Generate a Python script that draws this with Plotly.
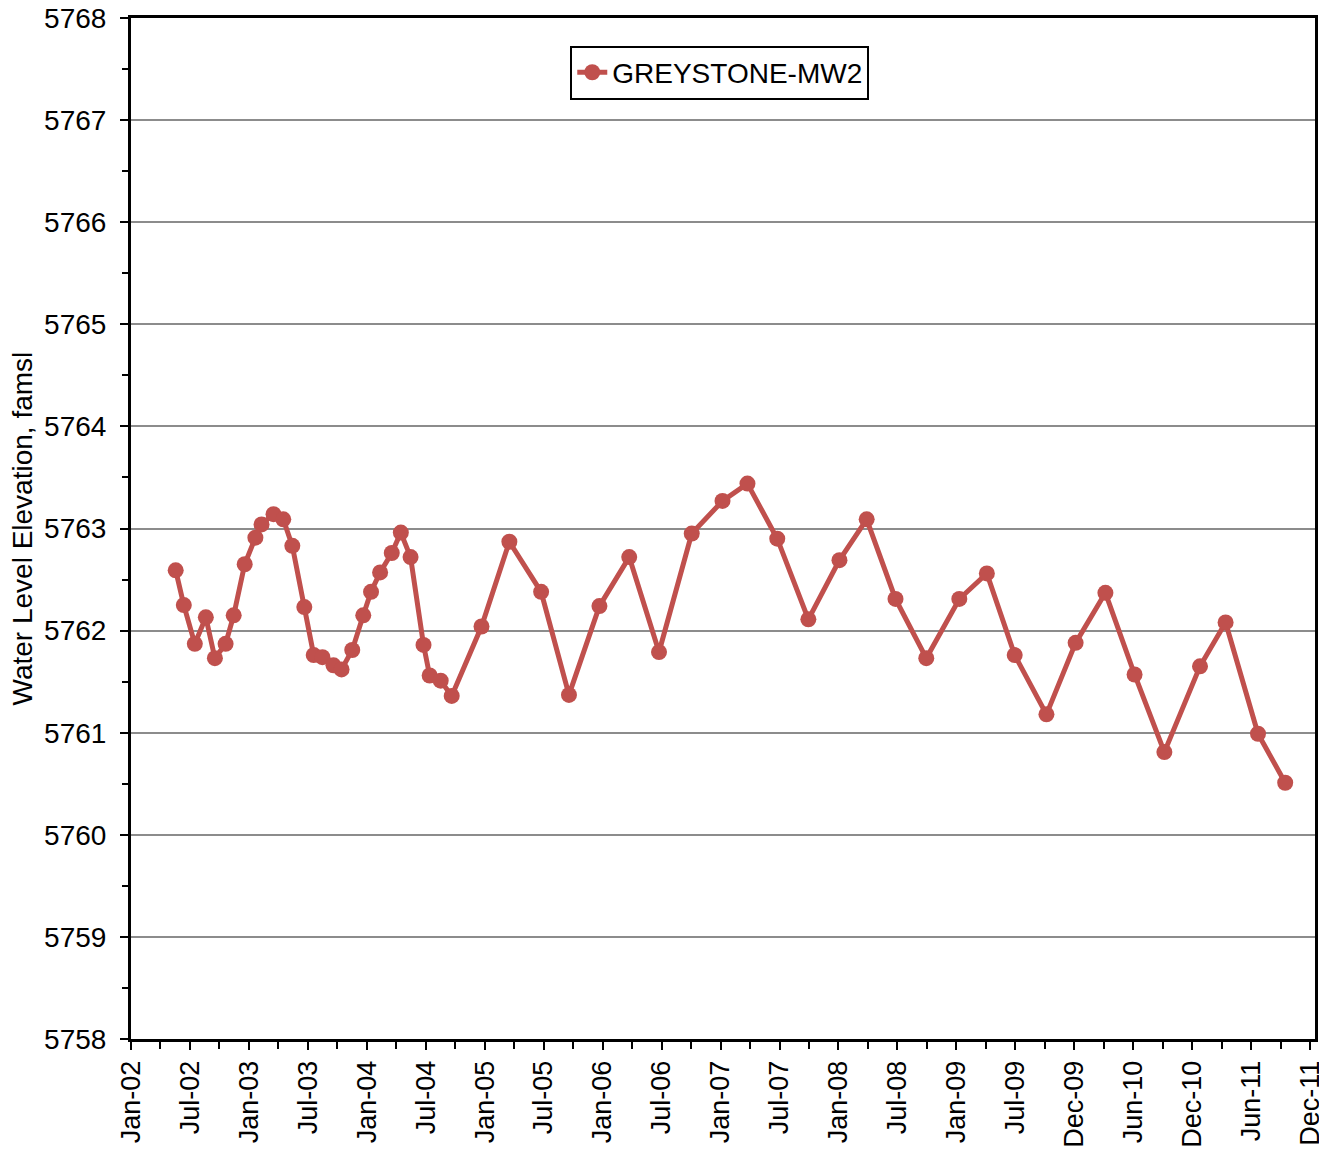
import plotly.graph_objects as go
from datetime import date, timedelta

series_name = "GREYSTONE-MW2"
y_title = "Water Level Elevation, famsl"

dates = [
    "2002-05-19", "2002-06-13", "2002-07-17", "2002-08-20", "2002-09-17", "2002-10-20",
    "2002-11-14", "2002-12-18", "2003-01-20", "2003-02-08", "2003-03-17", "2003-04-16",
    "2003-05-14", "2003-06-20", "2003-07-19", "2003-08-15", "2003-09-18", "2003-10-13",
    "2003-11-15", "2003-12-19", "2004-01-12", "2004-02-09", "2004-03-16", "2004-04-13",
    "2004-05-13", "2004-06-22", "2004-07-11", "2004-08-14", "2004-09-17", "2004-12-18",
    "2005-03-14", "2005-06-20", "2005-09-14", "2005-12-17", "2006-03-19", "2006-06-19",
    "2006-09-28", "2007-01-01", "2007-03-19", "2007-06-19", "2007-09-23", "2007-12-28",
    "2008-03-21", "2008-06-18", "2008-09-21", "2009-01-01", "2009-03-27", "2009-06-21",
    "2009-09-27", "2009-12-26", "2010-03-28", "2010-06-26", "2010-09-26", "2011-01-14",
    "2011-04-03", "2011-07-12", "2011-10-04",
]

elevations = [
    5762.59, 5762.25, 5761.87, 5762.13, 5761.73, 5761.87,
    5762.15, 5762.65, 5762.91, 5763.04, 5763.14, 5763.09,
    5762.83, 5762.23, 5761.76, 5761.74, 5761.66, 5761.62,
    5761.81, 5762.15, 5762.38, 5762.57, 5762.76, 5762.96,
    5762.72, 5761.86, 5761.56, 5761.51, 5761.36, 5762.04,
    5762.87, 5762.38, 5761.37, 5762.24, 5762.72, 5761.79,
    5762.95, 5763.27, 5763.44, 5762.90, 5762.11, 5762.69,
    5763.09, 5762.31, 5761.73, 5762.31, 5762.56, 5761.76,
    5761.18, 5761.88, 5762.37, 5761.57, 5760.81, 5761.65,
    5762.08, 5760.99, 5760.51,
]

x_tick_labels = [
    "Jan-02", "Jul-02", "Jan-03", "Jul-03", "Jan-04", "Jul-04", "Jan-05",
    "Jul-05", "Jan-06", "Jul-06", "Jan-07", "Jul-07", "Jan-08", "Jul-08",
    "Jan-09", "Jul-09", "Dec-09", "Jun-10", "Dec-10", "Jun-11", "Dec-11",
]

y_min, y_max = 5758, 5768
y_ticks = list(range(5758, 5769))

# Excel-style date axis: major unit 182 days from 1-Jan-2002
start = date(2002, 1, 1)
major_step = 182
tick_dates = [(start + timedelta(days=major_step * i)).isoformat() for i in range(len(x_tick_labels))]
minor_dates = [(start + timedelta(days=major_step * i + major_step // 2)).isoformat()
               for i in range(len(x_tick_labels) - 1)]
x_end = start + timedelta(days=major_step * (len(x_tick_labels) - 1) + 15)
x_range = [tick_dates[0], x_end.isoformat()]

RED = "#C0504D"
FONT = "Liberation Sans, Arial, sans-serif"
FS = 28

fig = go.Figure()
fig.add_trace(go.Scatter(
    x=dates, y=elevations, name=series_name, mode="lines+markers",
    line=dict(color=RED, width=5),
    marker=dict(color=RED, size=16, line=dict(width=0)),
))

# page body adds a small offset; figure sized to end at the window edge
fig.update_layout(
    width=1319, height=1143,
    margin=dict(l=123, r=12, t=10, b=112, autoexpand=False),
    paper_bgcolor="white", plot_bgcolor="white",
    font=dict(family=FONT, size=FS, color="black"),
    showlegend=True,
    legend=dict(
        x=0.371, y=0.973, xanchor="left", yanchor="top",
        bgcolor="white", bordercolor="black", borderwidth=2,
        font=dict(family=FONT, size=FS, color="black"),
        itemwidth=30, tracegroupgap=0,
    ),
    annotations=[dict(
        text=y_title, textangle=-90, showarrow=False,
        xref="paper", yref="paper", x=0, y=0.5,
        xanchor="center", yanchor="middle", xshift=-109,
        font=dict(family=FONT, size=FS, color="black"),
    )],
)

fig.update_xaxes(
    type="date",
    range=x_range,
    automargin=False,
    ticklabeloverflow="allow",
    tickmode="array", tickvals=tick_dates, ticktext=x_tick_labels,
    tickangle=-90,
    tickfont=dict(family=FONT, size=27, color="black"),
    ticks="outside", ticklen=8, tickwidth=2, tickcolor="black",
    showline=True, linecolor="black", linewidth=3, mirror=True,
    showgrid=False, zeroline=False,
    minor=dict(tickmode="array", tickvals=minor_dates, ticks="outside",
               ticklen=7, tickwidth=2, tickcolor="black", showgrid=False),
)

fig.update_yaxes(
    range=[y_min, y_max],
    automargin=False,
    ticklabeloverflow="allow",
    ticklabelstandoff=8,
    tickmode="array", tickvals=y_ticks, ticktext=[str(v) for v in y_ticks],
    tickfont=dict(family=FONT, size=FS, color="black"),
    ticks="outside", ticklen=8, tickwidth=2, tickcolor="black",
    showline=True, linecolor="black", linewidth=3, mirror=True,
    showgrid=True, gridcolor="#8c8c8c", gridwidth=1.5, zeroline=False,
    minor=dict(tickmode="array", tickvals=[v + 0.5 for v in y_ticks[:-1]], ticks="outside",
               ticklen=6, tickwidth=2, tickcolor="black", showgrid=False),
)

fig.write_html("out.html")
